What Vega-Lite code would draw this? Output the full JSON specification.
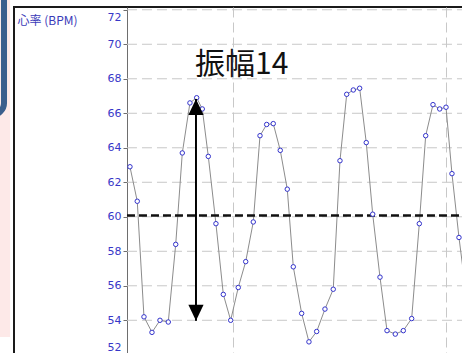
{
  "$schema": "https://vega.github.io/schema/vega-lite/v6.json",
  "width": 451,
  "height": 349,
  "autosize": {"type": "none"},
  "padding": {"left": 14, "top": 7, "right": -3, "bottom": -3},
  "background": "white",
  "config": {
    "view": {"stroke": "#1a1a1a", "strokeWidth": 2},
    "font": "DejaVu Sans",
    "axis": {"labelOverlap": false},
    "axisY": {"labelOverlap": false}
  },
  "datasets": {
    "hr": [
      {"t": 0.42, "v": 62.9},
      {"t": 1.45, "v": 60.9},
      {"t": 2.40, "v": 54.2},
      {"t": 3.53, "v": 53.3},
      {"t": 4.66, "v": 54.0},
      {"t": 5.83, "v": 53.9},
      {"t": 6.88, "v": 58.4},
      {"t": 7.81, "v": 63.7},
      {"t": 8.89, "v": 66.6},
      {"t": 9.84, "v": 66.9},
      {"t": 10.63, "v": 66.25},
      {"t": 11.48, "v": 63.5},
      {"t": 12.56, "v": 59.6},
      {"t": 13.60, "v": 55.5},
      {"t": 14.64, "v": 54.0},
      {"t": 15.71, "v": 55.9},
      {"t": 16.76, "v": 57.4},
      {"t": 17.83, "v": 59.7},
      {"t": 18.78, "v": 64.7},
      {"t": 19.72, "v": 65.35},
      {"t": 20.65, "v": 65.4},
      {"t": 21.64, "v": 63.85},
      {"t": 22.63, "v": 61.6},
      {"t": 23.48, "v": 57.1},
      {"t": 24.66, "v": 54.4},
      {"t": 25.69, "v": 52.75},
      {"t": 26.78, "v": 53.35},
      {"t": 27.95, "v": 54.65},
      {"t": 29.12, "v": 55.8},
      {"t": 30.07, "v": 63.25},
      {"t": 31.02, "v": 67.1},
      {"t": 31.95, "v": 67.35},
      {"t": 32.85, "v": 67.45},
      {"t": 33.78, "v": 64.3},
      {"t": 34.69, "v": 60.15},
      {"t": 35.72, "v": 56.5},
      {"t": 36.71, "v": 53.4},
      {"t": 37.88, "v": 53.2},
      {"t": 39.01, "v": 53.4},
      {"t": 40.19, "v": 54.1},
      {"t": 41.27, "v": 59.6},
      {"t": 42.17, "v": 64.7},
      {"t": 43.20, "v": 66.5},
      {"t": 44.15, "v": 66.25},
      {"t": 45.04, "v": 66.35},
      {"t": 45.88, "v": 62.5},
      {"t": 46.87, "v": 58.8},
      {"t": 47.86, "v": 55.6}
    ],
    "grid": [
      {"g": 54}, {"g": 56}, {"g": 58}, {"g": 60}, {"g": 62},
      {"g": 64}, {"g": 66}, {"g": 68}, {"g": 70}, {"g": 72}
    ],
    "mean": [{"m": 60.08}],
    "arrow": [{"t": 9.74, "low": 53.97, "high": 66.83}],
    "note": [{"t": 9.6, "v": 68.8, "label": "振幅14"}]
  },
  "layer": [
    {
      "data": {"values": [{}]},
      "mark": {"type": "rect", "fill": "#fde9e8", "clip": false},
      "encoding": {
        "x": {"datum": -40, "type": "quantitative", "scale": {"domain": [-15.95, 47.72], "nice": false, "zero": false}},
        "x2": {"datum": -16.5},
        "y": {"datum": 53.03, "type": "quantitative", "scale": {"domain": [51.93, 72.16], "nice": false, "zero": false}},
        "y2": {"datum": 78}
      }
    },
    {
      "data": {"values": [{}]},
      "mark": {"type": "rect", "fill": "transparent", "stroke": "#3b5e8c", "strokeWidth": 6, "cornerRadius": 12, "clip": false},
      "encoding": {
        "x": {"datum": -40, "type": "quantitative"},
        "x2": {"datum": -17.36},
        "y": {"datum": 65.9, "type": "quantitative"},
        "y2": {"datum": 80}
      }
    },
    {
      "data": {"name": "grid"},
      "mark": {"type": "rule", "stroke": "#c8c8c8", "strokeWidth": 1, "strokeDash": [10, 5]},
      "encoding": {
        "y": {"field": "g", "type": "quantitative"},
        "x": {"datum": 0, "type": "quantitative"},
        "x2": {"datum": 47.72}
      }
    },
    {
      "data": {"name": "hr"},
      "mark": {"type": "line", "stroke": "#8c8c8c", "strokeWidth": 1, "clip": true},
      "encoding": {
        "x": {
          "field": "t", "type": "quantitative",
          "scale": {"domain": [-15.95, 47.72], "nice": false, "zero": false},
          "axis": {"values": [15, 45], "tickCount": 10, "grid": true, "gridColor": "#c8c8c8", "gridDash": [10, 5], "gridWidth": 1, "labels": false, "ticks": false, "domain": false, "title": null}
        },
        "y": {
          "field": "v", "type": "quantitative",
          "scale": {"domain": [51.93, 72.16], "nice": false, "zero": false},
          "axis": {
            "title": "心率 (BPM)", "titleAngle": 0, "titleAlign": "left", "titleBaseline": "top",
            "titleX": -110, "titleY": 8, "titleColor": "#3a3ab8", "titleFont": "Noto Sans CJK JP",
            "titleFontSize": 12, "titleFontWeight": "normal",
            "values": [52, 54, 56, 58, 60, 62, 64, 66, 68, 70, 72],
            "tickCount": 20,
            "offset": -113, "grid": false,
            "domainColor": "#6e6e6e", "domainWidth": 1,
            "tickColor": "#6e6e6e", "tickSize": 4,
            "labelColor": "#3737c8", "labelFont": "DejaVu Sans", "labelFontSize": 11, "labelPadding": 2,
            "labelBound": false, "labelOverlap": false, "labelFlush": false,
            "labelOffset": {"condition": [{"test": "datum.value >= 72", "value": 8}, {"test": "datum.value <= 52", "value": -7}], "value": 0}
          }
        }
      }
    },
    {
      "data": {"name": "mean"},
      "mark": {"type": "rule", "stroke": "#111111", "strokeWidth": 2.5, "strokeDash": [8, 4]},
      "encoding": {
        "y": {"field": "m", "type": "quantitative"},
        "x": {"datum": 0, "type": "quantitative"},
        "x2": {"datum": 47.72}
      }
    },
    {
      "data": {"name": "hr"},
      "mark": {"type": "point", "shape": "circle", "size": 20, "filled": true, "fill": "white", "stroke": "#3333cc", "strokeWidth": 1, "opacity": 1, "clip": true},
      "encoding": {
        "x": {"field": "t", "type": "quantitative"},
        "y": {"field": "v", "type": "quantitative"}
      }
    },
    {
      "data": {"name": "arrow"},
      "mark": {"type": "rule", "stroke": "#000000", "strokeWidth": 2},
      "encoding": {
        "x": {"field": "t", "type": "quantitative"},
        "y": {"field": "low", "type": "quantitative"},
        "y2": {"field": "high"}
      }
    },
    {
      "data": {"name": "arrow"},
      "mark": {"type": "point", "shape": "M0,0L-0.95,2L0.95,2Z", "size": 256, "filled": true, "fill": "#000000", "strokeWidth": 0, "opacity": 1},
      "encoding": {
        "x": {"field": "t", "type": "quantitative"},
        "y": {"field": "high", "type": "quantitative"}
      }
    },
    {
      "data": {"name": "arrow"},
      "mark": {"type": "point", "shape": "M0,0L-0.95,-2L0.95,-2Z", "size": 256, "filled": true, "fill": "#000000", "strokeWidth": 0, "opacity": 1},
      "encoding": {
        "x": {"field": "t", "type": "quantitative"},
        "y": {"field": "low", "type": "quantitative"}
      }
    },
    {
      "data": {"name": "note"},
      "mark": {"type": "text", "font": "Noto Sans CJK JP", "fontSize": 30, "align": "left", "baseline": "middle", "fill": "#111111"},
      "encoding": {
        "x": {"field": "t", "type": "quantitative"},
        "y": {"field": "v", "type": "quantitative"},
        "text": {"field": "label"}
      }
    }
  ]
}
